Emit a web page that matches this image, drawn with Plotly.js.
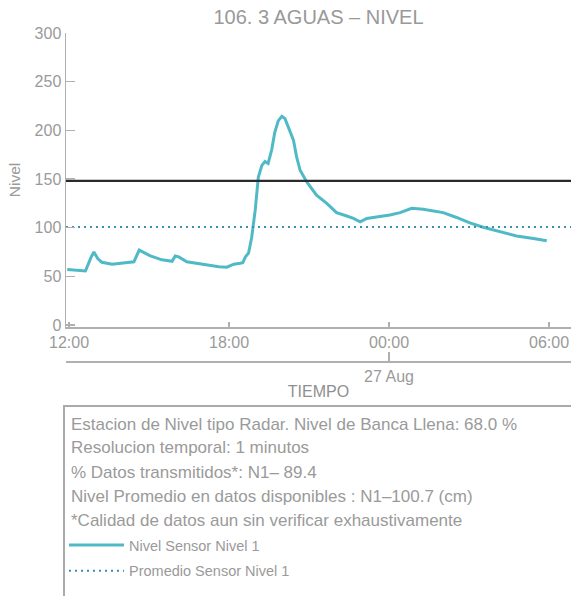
<!DOCTYPE html>
<html>
<head>
<meta charset="utf-8">
<script src="https://cdn.plot.ly/plotly-3.0.1.min.js"></script>
<style>html,body{margin:0;padding:0;background:#fff;}#chart{width:571px;height:596px;}</style>
</head>
<body>
<div id="chart"></div>
<script>
// ---- data ----
const titleText = '106. 3 AGUAS \u2013 NIVEL';
const times = [
  '2024-08-26 11:56','2024-08-26 12:20','2024-08-26 12:37','2024-08-26 12:50','2024-08-26 12:56',
  '2024-08-26 13:05','2024-08-26 13:14','2024-08-26 13:37','2024-08-26 14:00','2024-08-26 14:26',
  '2024-08-26 14:38','2024-08-26 15:03','2024-08-26 15:29','2024-08-26 15:52','2024-08-26 15:59',
  '2024-08-26 16:07','2024-08-26 16:25','2024-08-26 16:59','2024-08-26 17:37','2024-08-26 17:55',
  '2024-08-26 18:11','2024-08-26 18:25','2024-08-26 18:31','2024-08-26 18:37','2024-08-26 18:44',
  '2024-08-26 18:51','2024-08-26 18:59','2024-08-26 19:06','2024-08-26 19:14','2024-08-26 19:21',
  '2024-08-26 19:28','2024-08-26 19:36','2024-08-26 19:43','2024-08-26 19:51','2024-08-26 19:59',
  '2024-08-26 20:06','2024-08-26 20:17','2024-08-26 20:25','2024-08-26 20:32','2024-08-26 20:40',
  '2024-08-26 20:55','2024-08-26 21:17','2024-08-26 21:40','2024-08-26 22:02','2024-08-26 22:25',
  '2024-08-26 22:40','2024-08-26 22:55','2024-08-26 23:10','2024-08-26 23:32','2024-08-27 00:02',
  '2024-08-27 00:25','2024-08-27 00:51','2024-08-27 01:17','2024-08-27 01:40','2024-08-27 02:02',
  '2024-08-27 02:32','2024-08-27 03:02','2024-08-27 03:32','2024-08-27 04:10','2024-08-27 04:47',
  '2024-08-27 05:25','2024-08-27 05:55'
];
const nivel = [
  57, 56, 55.5, 70, 75,
  68, 64.5, 62.5, 63.5, 65,
  77, 71, 67, 65.5, 71,
  70, 65, 62.5, 60, 59.5,
  62.5, 63.5, 64, 70, 74,
  90, 118, 152, 164, 168,
  166, 180, 198, 210, 214.5,
  212, 200, 190, 173, 159,
  147, 133.5, 125, 115.5, 112,
  109.5, 106, 109.5, 111, 113,
  115.5, 120, 119, 117.5, 115.5,
  110.5, 105, 100.5, 96, 91.5,
  89, 86.5
];
const promedio = 100.7;
const bancaLlena = 148;
const xStart = '2024-08-26 11:53:15';
const xEnd = '2024-08-27 06:49:30';
const seriesNames = ['Nivel Sensor Nivel 1', 'Promedio Sensor Nivel 1'];
const infoLines = [
  'Estacion de Nivel tipo Radar. Nivel de Banca Llena: 68.0 %',
  'Resolucion temporal: 1 minutos',
  '% Datos transmitidos*: N1\u2013 89.4',
  'Nivel Promedio en datos disponibles : N1\u2013100.7 (cm)',
  '*Calidad de datos aun sin verificar exhaustivamente'
];
const xTitle = 'TIEMPO';
const yTitle = 'Nivel';

// ---- layout helpers ----
const FONT = 'Liberation Sans, Arial, Helvetica, sans-serif';
const H = 596, TOP = 33, PAPER_BOTTOM = 361;
const paperH = PAPER_BOTTOM - TOP;
const py = p => (PAPER_BOTTOM - p) / paperH;
const px = p => (p - 66) / 505;

const traces = [
  {x: times, y: nivel, type: 'scatter', mode: 'lines', name: seriesNames[0], legendgroup: 'a',
   line: {color: '#4fbac6', width: 3}, hoverinfo: 'skip'},
  {x: [xStart, xEnd], y: [promedio, promedio], type: 'scatter', mode: 'lines', name: seriesNames[1], legendgroup: 'b',
   line: {color: '#3a90b0', width: 2, dash: '2px,4px'}, hoverinfo: 'skip'},
  {x: [xStart, xEnd], y: [bancaLlena, bancaLlena], type: 'scatter', mode: 'lines', showlegend: false,
   line: {color: '#2a2a2a', width: 2.2}, hoverinfo: 'skip'},
  {x: [xStart, xEnd], y: [null, null], xaxis: 'x2', type: 'scatter', mode: 'lines', showlegend: false, hoverinfo: 'skip'}
];

const axisCommon = {
  showline: true, linecolor: '#b0b0b0', linewidth: 1.5, showgrid: false, zeroline: false,
  ticks: 'inside', tickcolor: '#b0b0b0', tickwidth: 1.2,
  tickfont: {family: FONT, size: 16, color: '#9a9a9a'}
};

const annotations = infoLines.map((t, i) => ({
  text: t, xref: 'paper', yref: 'paper', x: px(69), y: py(424 + 24 * i),
  xanchor: 'left', yanchor: 'middle', showarrow: false,
  font: {family: FONT, size: 17, color: '#9a9a9a'}
}));

const layout = {
  width: 571, height: H,
  margin: {l: 66, r: 0, t: TOP, b: H - PAPER_BOTTOM, pad: 0},
  paper_bgcolor: '#fff', plot_bgcolor: '#fff',
  font: {family: FONT, color: '#9a9a9a'},
  title: {text: titleText, font: {family: FONT, size: 20, color: '#999'},
          x: 0.5, xref: 'paper', xanchor: 'center', y: 1 - 17 / H, yref: 'container', yanchor: 'middle'},
  xaxis: Object.assign({}, axisCommon, {
    type: 'date', range: [xStart, xEnd], dtick: 6 * 3600000, tick0: '2024-08-26 00:00',
    tickformat: '%H:%M', ticklen: 5, anchor: 'y'
  }),
  xaxis2: Object.assign({}, axisCommon, {
    type: 'date', range: [xStart, xEnd], dtick: 86400000, tick0: '2024-08-27 00:00',
    tickformat: '%d %b', ticklen: 9, overlaying: 'x', anchor: 'free', position: 0, side: 'bottom',
    title: {text: xTitle, font: {family: FONT, size: 16, color: '#8f8f8f'}, standoff: 2}
  }),
  yaxis: Object.assign({}, axisCommon, {
    domain: [(PAPER_BOTTOM - 327) / paperH, 1], range: [-2, 300], dtick: 50, ticklen: 9,
    title: {text: yTitle, font: {family: FONT, size: 15.5, color: '#9a9a9a'}, standoff: 10}
  }),
  legend: {x: px(64), xanchor: 'left', y: py(529), yanchor: 'top', bgcolor: 'rgba(0,0,0,0)',
           borderwidth: 0, font: {family: FONT, size: 14.5, color: '#9a9a9a'}, itemwidth: 55,
           traceorder: 'grouped', tracegroupgap: 4},
  shapes: [{type: 'rect', xref: 'paper', yref: 'paper', x0: px(64), x1: 1.1, y0: py(406), y1: py(660),
            line: {color: '#aaaaaa', width: 2}, fillcolor: 'rgba(0,0,0,0)'}],
  annotations: annotations,
  showlegend: true
};

Plotly.newPlot('chart', traces, layout, {displayModeBar: false, staticPlot: true});
</script>
</body>
</html>
